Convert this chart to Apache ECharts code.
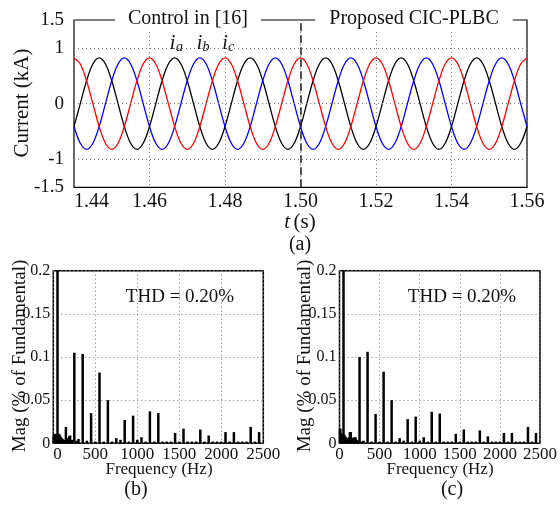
<!DOCTYPE html>
<html>
<head>
<meta charset="utf-8">
<script src="https://cdn.jsdelivr.net/npm/echarts@6/dist/echarts.min.js"></script>
<style>
  html, body { margin: 0; padding: 0; background: #fff; }
  #chart { width: 560px; height: 512px; }
</style>
</head>
<body>
<div id="chart"></div>
<script>
// ---- (a) three-phase currents, kA (1/600 s samples)
const time = [
  1.44,1.44167,1.44333,1.445,1.44667,1.44833,
  1.45,1.45167,1.45333,1.455,1.45667,1.45833,
  1.46,1.46167,1.46333,1.465,1.46667,1.46833,
  1.47,1.47167,1.47333,1.475,1.47667,1.47833,
  1.48,1.48167,1.48333,1.485,1.48667,1.48833,
  1.49,1.49167,1.49333,1.495,1.49667,1.49833,
  1.50,1.50167,1.50333,1.505,1.50667,1.50833,
  1.51,1.51167,1.51333,1.515,1.51667,1.51833,
  1.52,1.52167,1.52333,1.525,1.52667,1.52833,
  1.53,1.53167,1.53333,1.535,1.53667,1.53833,
  1.54,1.54167,1.54333,1.545,1.54667,1.54833,
  1.55,1.55167,1.55333,1.555,1.55667,1.55833,
  1.56
];
const iA = [
  -0.41,0,0.41,0.71,0.82,0.71, 0.41,0,-0.41,-0.71,-0.82,-0.71,
  -0.41,0,0.41,0.71,0.82,0.71, 0.41,0,-0.41,-0.71,-0.82,-0.71,
  -0.41,0,0.41,0.71,0.82,0.71, 0.41,0,-0.41,-0.71,-0.82,-0.71,
  -0.41,0,0.41,0.71,0.82,0.71, 0.41,0,-0.41,-0.71,-0.82,-0.71,
  -0.41,0,0.41,0.71,0.82,0.71, 0.41,0,-0.41,-0.71,-0.82,-0.71,
  -0.41,0,0.41,0.71,0.82,0.71, 0.41,0,-0.41,-0.71,-0.82,-0.71,
  -0.41
];
const iB = [
  -0.41,-0.71,-0.82,-0.71,-0.41,0, 0.41,0.71,0.82,0.71,0.41,0,
  -0.41,-0.71,-0.82,-0.71,-0.41,0, 0.41,0.71,0.82,0.71,0.41,0,
  -0.41,-0.71,-0.82,-0.71,-0.41,0, 0.41,0.71,0.82,0.71,0.41,0,
  -0.41,-0.71,-0.82,-0.71,-0.41,0, 0.41,0.71,0.82,0.71,0.41,0,
  -0.41,-0.71,-0.82,-0.71,-0.41,0, 0.41,0.71,0.82,0.71,0.41,0,
  -0.41,-0.71,-0.82,-0.71,-0.41,0, 0.41,0.71,0.82,0.71,0.41,0,
  -0.41
];
const iC = [
  0.82,0.71,0.41,0,-0.41,-0.71, -0.82,-0.71,-0.41,0,0.41,0.71,
  0.82,0.71,0.41,0,-0.41,-0.71, -0.82,-0.71,-0.41,0,0.41,0.71,
  0.82,0.71,0.41,0,-0.41,-0.71, -0.82,-0.71,-0.41,0,0.41,0.71,
  0.82,0.71,0.41,0,-0.41,-0.71, -0.82,-0.71,-0.41,0,0.41,0.71,
  0.82,0.71,0.41,0,-0.41,-0.71, -0.82,-0.71,-0.41,0,0.41,0.71,
  0.82,0.71,0.41,0,-0.41,-0.71, -0.82,-0.71,-0.41,0,0.41,0.71,
  0.82
];
const switchTime = 1.50;
const currentGridValues = [1, 0, -1];
const phaseNames = ['a', 'b', 'c'];
const modeNames = ['Control in [16]', 'Proposed CIC-PLBC'];

// ---- (b), (c) harmonic spectra, % of fundamental
const freq = [
  0,10,20,30,40,50,60,70,80,90,
  100,110,120,130,140,150,160,170,180,190,
  200,220,250,280,300,350,400,450,500,550,
  600,650,700,750,800,850,900,950,1000,1050,
  1100,1150,1200,1250,1300,1350,1400,1450,1500,1550,
  1600,1650,1700,1750,1800,1850,1900,1950,2000,2050,
  2100,2150,2200,2250,2300,2350,2400,2450
];
const magB = [
  0.008,0.010,0.011,0.010,0.009,100,0.010,0.011,0.009,0.007,
  0.006,0.005,0.004,0.003,0.004,0.019,0.004,0.006,0.005,0.008,
  0.009,0.004,0.105,0.003,0.005,0.1035,0.003,0.035,0.002,0.082,
  0.002,0.050,0.002,0.006,0.004,0.027,0.002,0.032,0.004,0.007,
  0.002,0.037,0.002,0.035,0.002,0.002,0.002,0.012,0.002,0.017,
  0.002,0.002,0.002,0.016,0.002,0.009,0.002,0.002,0.002,0.013,
  0.002,0.013,0.002,0.002,0.002,0.019,0.002,0.013
];
const magC = [
  0.017,0.017,0.012,0.010,0.009,100,0.010,0.008,0.007,0.006,
  0.006,0.005,0.007,0.013,0.013,0.006,0.006,0.005,0.007,0.006,
  0.007,0.004,0.100,0.002,0.003,0.106,0.002,0.034,0.002,0.083,
  0.002,0.050,0.002,0.006,0.003,0.028,0.002,0.031,0.003,0.007,
  0.002,0.0365,0.002,0.0345,0.002,0.002,0.002,0.011,0.002,0.016,
  0.002,0.002,0.002,0.015,0.002,0.008,0.002,0.002,0.002,0.012,
  0.002,0.012,0.002,0.002,0.002,0.019,0.002,0.012
];
const thdB = 'THD = 0.20%';
const thdC = 'THD = 0.20%';

// ---------------------------------------------------------------
const FONT = "'Liberation Serif','Times New Roman',serif";
const TXT = '#111';
const GRIDLINE = { type: [1, 3], color: '#7a7a7a', width: 1 };

function zip(xs, ys) { return xs.map((x, i) => [x, ys[i]]); }

function txt(x, y, text, size, extra) {
  return Object.assign({
    type: 'text', x: x, y: y, z: 100,
    style: Object.assign({
      text: text, fontSize: size, fontFamily: FONT, fill: TXT,
      align: 'center', verticalAlign: 'middle'
    }, (extra && extra.style) || {})
  }, extra && extra.rotation ? { rotation: extra.rotation } : {});
}

const chart = echarts.init(document.getElementById('chart'), null, { renderer: 'canvas' });

const spectrumX = (idx, minAlign) => ({
  gridIndex: idx, type: 'value', min: 0, max: 2500, interval: 500,
  axisLine: { show: false }, axisTick: { show: false },
  axisLabel: Object.assign({ fontFamily: FONT, fontSize: 17, color: TXT, margin: 3, formatter: v => String(v) },
    minAlign ? { alignMinLabel: minAlign } : {}),
  splitLine: { show: true, lineStyle: GRIDLINE }
});
const spectrumY = (idx) => ({
  gridIndex: idx, type: 'value', min: 0, max: 0.2, interval: 0.05,
  axisLine: { show: false }, axisTick: { show: false },
  axisLabel: { fontFamily: FONT, fontSize: 16, color: TXT, margin: 3, formatter: v => String(Math.round(v * 100) / 100) },
  splitLine: { show: true, lineStyle: GRIDLINE }
});

const option = {
  animation: false,
  backgroundColor: '#fff',
  grid: [
    { left: 74, right: 33, top: 20, bottom: 324.7, show: true, borderColor: '#000', borderWidth: 1.2, backgroundColor: 'transparent' },
    { left: 53.3, right: 296.7, top: 270.7, bottom: 68.7, show: true, borderColor: '#000', borderWidth: 1.5, backgroundColor: 'transparent' },
    { left: 339.5, right: 20, top: 270.7, bottom: 68.7, show: true, borderColor: '#000', borderWidth: 1.5, backgroundColor: 'transparent' }
  ],
  xAxis: [
    {
      gridIndex: 0, type: 'value', min: 1.44, max: 1.56, interval: 0.02,
      axisLine: { show: false }, axisTick: { show: false },
      axisLabel: { fontFamily: FONT, fontSize: 20, color: TXT, margin: 4, alignMinLabel: 'left', formatter: v => v.toFixed(2) },
      splitLine: { show: true, lineStyle: GRIDLINE }
    },
    spectrumX(1, 'left'), spectrumX(2, null)
  ],
  yAxis: [
    {
      gridIndex: 0, type: 'value', min: -1.5, max: 1.5, interval: 0.5,
      axisLine: { show: false }, axisTick: { show: false },
      axisLabel: {
        fontFamily: FONT, fontSize: 19, color: TXT, margin: 10,
        formatter: v => (Math.abs(Math.abs(v) - 0.5) < 1e-9 ? '' : String(Math.round(v * 10) / 10))
      },
      splitLine: { show: false }
    },
    spectrumY(1), spectrumY(2)
  ],
  series: [
    {
      type: 'line', xAxisIndex: 0, yAxisIndex: 0, data: [], z: 1,
      markLine: {
        silent: true, symbol: 'none', label: { show: false },
        lineStyle: GRIDLINE, animation: false,
        data: currentGridValues.map(v => ({ yAxis: v }))
      }
    },
    {
      name: 'ia', type: 'line', xAxisIndex: 0, yAxisIndex: 0, data: zip(time, iA),
      smooth: 0.35, showSymbol: false, lineStyle: { color: '#000', width: 1.3 }, itemStyle: { color: '#000' }
    },
    {
      name: 'ib', type: 'line', xAxisIndex: 0, yAxisIndex: 0, data: zip(time, iB),
      smooth: 0.35, showSymbol: false, lineStyle: { color: '#0000ff', width: 1.3 }, itemStyle: { color: '#0000ff' }
    },
    {
      name: 'ic', type: 'line', xAxisIndex: 0, yAxisIndex: 0, data: zip(time, iC),
      smooth: 0.35, showSymbol: false, lineStyle: { color: '#ff0000', width: 1.3 }, itemStyle: { color: '#ff0000' },
      markLine: {
        silent: true, symbol: 'none', label: { show: false }, animation: false,
        lineStyle: { type: [8, 4], color: '#222', width: 1.5 },
        data: [{ xAxis: switchTime }]
      }
    },
    {
      type: 'bar', xAxisIndex: 1, yAxisIndex: 1, data: zip(freq, magB),
      barWidth: 2.5, clip: true, itemStyle: { color: '#000' }
    },
    {
      type: 'bar', xAxisIndex: 2, yAxisIndex: 2, data: zip(freq, magC),
      barWidth: 2.5, clip: true, itemStyle: { color: '#000' }
    }
  ],
  graphic: [
    // top annotations over the frame
    txt(188, 19, modeNames[0], 20, { style: { backgroundColor: '#fff', padding: [2, 13, 2, 13] } }),
    txt(414, 19, modeNames[1], 20, { style: { backgroundColor: '#fff', padding: [2, 14, 2, 14] } }),
    // phase labels
    txt(172.5, 44, 'i', 20, { style: { fontStyle: 'italic' } }),
    txt(179.5, 47.5, phaseNames[0], 14, { style: { fontStyle: 'italic' } }),
    txt(199.5, 44, 'i', 20, { style: { fontStyle: 'italic' } }),
    txt(206, 47.5, phaseNames[1], 14, { style: { fontStyle: 'italic' } }),
    txt(225, 44, 'i', 20, { style: { fontStyle: 'italic' } }),
    txt(231, 47.5, phaseNames[2], 14, { style: { fontStyle: 'italic' } }),
    // axis titles (a)
    txt(22, 103, 'Current (kA)', 21, { rotation: Math.PI / 2 }),
    {
      type: 'text', x: 300, y: 222, z: 100,
      style: {
        text: '{t|t} {n|(s)}', align: 'center', verticalAlign: 'middle',
        rich: {
          t: { fontFamily: FONT, fontSize: 21, fontStyle: 'italic', fill: TXT },
          n: { fontFamily: FONT, fontSize: 21, fill: TXT }
        }
      }
    },
    txt(300, 245, '(a)', 20),
    // (b)
    txt(20, 356, 'Mag (% of Fundamental)', 19, { rotation: Math.PI / 2 }),
    txt(159, 470, 'Frequency (Hz)', 17),
    txt(136, 490, '(b)', 20),
    txt(180, 297, thdB, 19),
    // (c)
    txt(305, 356, 'Mag (% of Fundamental)', 19, { rotation: Math.PI / 2 }),
    txt(440, 470, 'Frequency (Hz)', 17),
    txt(452, 490, '(c)', 20),
    txt(462, 297, thdC, 19)
  ]
};

chart.setOption(option);
</script>
</body>
</html>
